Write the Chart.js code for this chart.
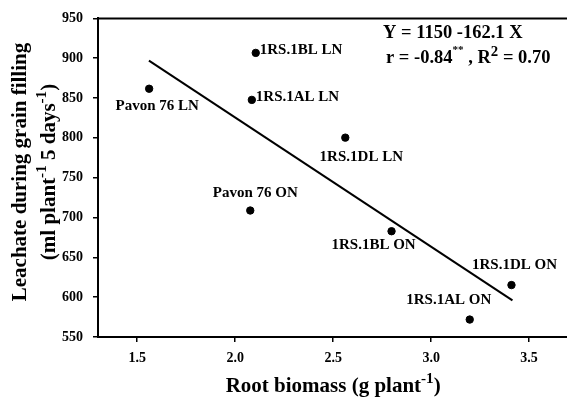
<!DOCTYPE html>
<html>
<head>
<meta charset="utf-8">
<script src="https://cdn.jsdelivr.net/npm/chart.js@4.4.1/dist/chart.umd.min.js"></script>
<style>
  html, body { margin: 0; padding: 0; background: #fff; overflow: hidden; }
  #chart { display: block; }
</style>
</head>
<body>
<canvas id="chart" width="573" height="400"></canvas>
<script>
// Data
const genotypes = ['Pavon 76 LN', '1RS.1BL LN', '1RS.1AL LN', '1RS.1DL LN',
                   'Pavon 76 ON', '1RS.1BL ON', '1RS.1DL ON', '1RS.1AL ON'];
const rootBiomass = [1.561, 2.105, 2.085, 2.562, 2.077, 2.798, 3.41, 3.197];
const leachate = [861.7, 906.7, 847.7, 800.3, 708.8, 682.8, 615.2, 571.9];

// Regression line end points (Y = 1150 - 162.1 X)
const fitX = [1.56, 3.415];
const fitY = [897, 596];

const xTicks = [1.5, 2.0, 2.5, 3.0, 3.5];
const yTicks = [550, 600, 650, 700, 750, 800, 850, 900, 950];

// Where each point's label sits relative to the dot: [align, dx, dy]
const labelPlacement = [
    ['center', 8, 17], ['left', 4, -3], ['left', 4, -3], ['center', 16, 19],
    ['center', 5, -17.5], ['center', -18, 13.5], ['center', 3, -20], ['center', -21, -19]
];

const FONT = '"Liberation Serif", "Times New Roman", serif';

// draw text made of pieces, some of them raised (superscripts)
function drawRich(ctx, parts, x, y, size, align) {
    let total = 0;
    const widths = parts.map(p => {
        ctx.font = `bold ${size * p[1]}px ${FONT}`;
        const w = ctx.measureText(p[0]).width;
        total += w;
        return w;
    });
    let cx = align === 'center' ? x - total / 2 : x;
    ctx.textAlign = 'left';
    ctx.textBaseline = 'alphabetic';
    parts.forEach((p, i) => {
        ctx.font = `bold ${size * p[1]}px ${FONT}`;
        ctx.fillText(p[0], cx, y + p[2] * size);
        cx += widths[i];
    });
}

const decorations = {
    id: 'decorations',
    afterDatasetsDraw(chart) {
        const ctx = chart.ctx;
        const area = chart.chartArea;
        ctx.save();
        ctx.fillStyle = '#000';

        // point labels
        const meta = chart.getDatasetMeta(0);
        ctx.font = `bold 15px ${FONT}`;
        ctx.textBaseline = 'middle';
        meta.data.forEach((pt, i) => {
            const [align, dx, dy] = labelPlacement[i];
            ctx.textAlign = align;
            ctx.fillText(genotypes[i], pt.x + dx, pt.y + dy);
        });

        // regression text
        drawRich(ctx, [['Y = 1150 -162.1 X', 1, 0]], 383, 38, 18.5, 'left');
        drawRich(ctx, [['r = -0.84', 1, 0], ['**', 0.6, -0.55], [' , R', 1, 0],
                       ['2', 0.8, -0.4], [' = 0.70', 1, 0]], 386, 63, 18.5, 'left');

        // top and right frame lines
        ctx.strokeStyle = '#000';
        ctx.lineWidth = 2;
        ctx.beginPath();
        ctx.moveTo(area.left - 1, area.top);
        ctx.lineTo(area.right, area.top);
        ctx.lineTo(area.right, area.bottom + 1);
        ctx.stroke();

        // axis titles
        const midX = (area.left + area.right) / 2;
        drawRich(ctx, [['Root biomass (g plant', 1, 0], ['-1', 0.72, -0.45], [')', 1, 0]],
                 midX, 392, 21, 'center');

        ctx.translate(0, 172);
        ctx.rotate(-Math.PI / 2);
        drawRich(ctx, [['Leachate during grain filling', 1, 0]], 0, 26, 21, 'center');
        drawRich(ctx, [['(ml plant', 1, 0], ['-1', 0.72, -0.45], [' 5 days', 1, 0],
                       ['-1', 0.72, -0.45], [')', 1, 0]], 0, 55, 21, 'center');
        ctx.restore();
    }
};

const axisCommon = {
    grid: { drawOnChartArea: false, drawTicks: true, tickLength: 5, color: '#000', lineWidth: 1.5 },
    border: { display: true, color: '#000', width: 2 },
    ticks: { color: '#000', font: { family: FONT, size: 14, weight: 'bold' } }
};

new Chart(document.getElementById('chart'), {
    type: 'scatter',
    data: {
        datasets: [{
            data: rootBiomass.map((x, i) => ({ x: x, y: leachate[i] })),
            backgroundColor: '#000',
            borderColor: '#000',
            pointRadius: 3.7,
            pointHoverRadius: 3.7
        }, {
            type: 'line',
            data: fitX.map((x, i) => ({ x: x, y: fitY[i] })),
            borderColor: '#000',
            borderWidth: 2,
            pointRadius: 0,
            fill: false
        }]
    },
    options: {
        responsive: false,
        animation: false,
        layout: { padding: { left: 0, top: 13, right: 2, bottom: 0 } },
        plugins: { legend: { display: false }, tooltip: { enabled: false } },
        scales: {
            x: {
                ...axisCommon,
                type: 'linear',
                min: 1.3,
                max: 3.7,
                afterBuildTicks: s => { s.ticks = xTicks.map(v => ({ value: v })); },
                afterFit: s => { s.height = 63; },
                ticks: { ...axisCommon.ticks, padding: 8, callback: v => v.toFixed(1) }
            },
            y: {
                ...axisCommon,
                min: 550,
                max: 950,
                afterBuildTicks: s => { s.ticks = yTicks.map(v => ({ value: v })); },
                afterFit: s => { s.width = 98; },
                ticks: { ...axisCommon.ticks, padding: 10 }
            }
        }
    },
    plugins: [decorations]
});
</script>
</body>
</html>
